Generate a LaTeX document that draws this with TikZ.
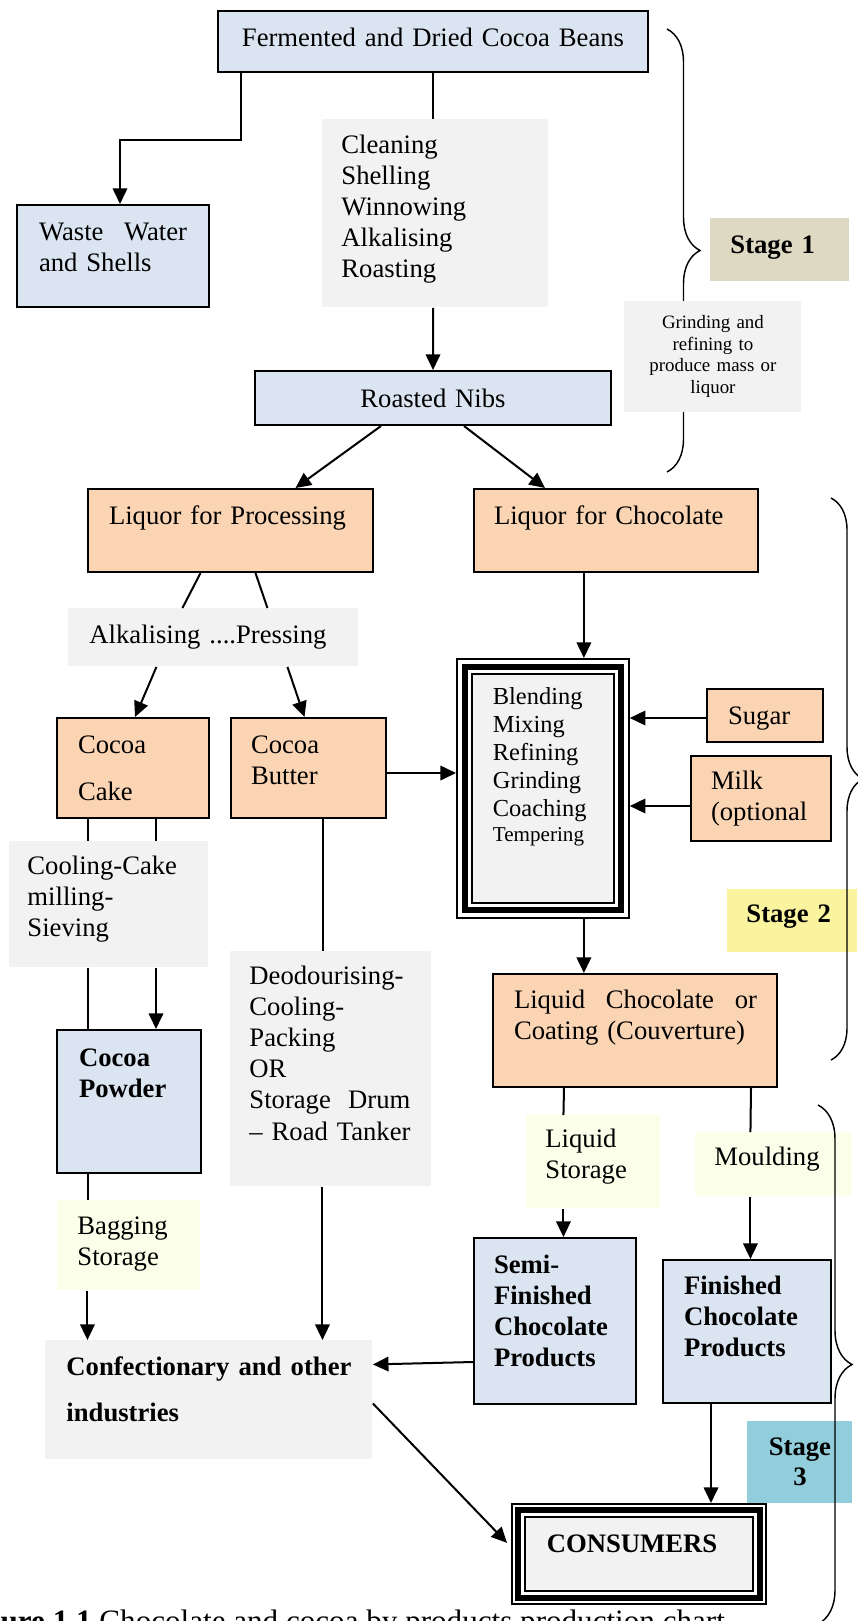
\documentclass[tikz,border=0pt]{standalone}
\usepackage{fontspec}
\setmainfont{Liberation Serif}
\usetikzlibrary{arrows.meta,decorations.pathreplacing}

\definecolor{boxblue}{HTML}{DBE5F1}
\definecolor{boxorange}{HTML}{FBD4B4}
\definecolor{boxgray}{HTML}{F2F2F2}
\definecolor{boxcream}{HTML}{FBFEE8}
\definecolor{stagetan}{HTML}{DDD9C3}
\definecolor{stageyellow}{HTML}{FAF49E}
\definecolor{stageblue}{HTML}{92CDDC}

\tikzset{
  box/.style={anchor=north west, inner ysep=0pt, inner xsep=0pt, align=left,
    font=\fontsize{12}{14}\selectfont},
  sz/.style n args={4}{text width=#1, inner xsep=#2, text height=#3, text depth=#4},
  bluebox/.style={box, draw, line width=0.9pt, fill=boxblue},
  orangebox/.style={box, draw, line width=0.9pt, fill=boxorange},
  graybox/.style={box, fill=boxgray},
  creambox/.style={box, fill=boxcream},
  tribox/.style 2 args={box, draw, line width=0.8pt, fill=white,
    path picture={
      \draw[line width=2.8pt] ([shift={(#1,#1)}]path picture bounding box.north west)
        rectangle ([shift={(-#1,-#1)}]path picture bounding box.south east);
      \draw[line width=0.8pt, fill=boxgray] ([shift={(#2,#2)}]path picture bounding box.north west)
        rectangle ([shift={(-#2,-#2)}]path picture bounding box.south east);
    }},
  arr/.style={-{Triangle[length=7pt,width=6.5pt]}, line width=0.9pt},
  link/.style={line width=0.9pt},
  stagebrace/.style={decorate, decoration={brace, amplitude=#1}, line width=0.65pt}
}

\begin{document}
\begin{tikzpicture}[x=0.45pt, y=-0.45pt]
  \useasboundingbox (0,0) rectangle (857,1621);

  \draw[stagebrace=14.85pt] (667,29) -- (667,472);

  \node[bluebox, align=center, sz={193.5pt}{0pt}{15.75pt}{11.7pt}] (beans) at (217,10)
    {Fermented and Dried Cocoa Beans};
  \node[bluebox, sz={66.6pt}{9.9pt}{15.75pt}{30.15pt}] (waste) at (16,204)
    {\makebox[66.6pt]{Waste\hfill Water}\\and Shells};
  \node[graybox, sz={84.6pt}{8.55pt}{15.3pt}{69.3pt}] (clean) at (322,119)
    {Cleaning\\Shelling\\Winnowing\\Alkalising\\Roasting};
  \node[bluebox, align=center, sz={160.2pt}{0pt}{16.2pt}{8.1pt}] (nibs) at (254,370)
    {Roasted Nibs};
  \node[graybox, align=center, font=\fontsize{8.5}{9.7}\selectfont,
    sz={79.65pt}{0pt}{12.15pt}{37.8pt}] (grind) at (624,301)
    {Grinding and\\refining to\\produce mass or\\liquor};
  \node[box, fill=stagetan, font=\fontsize{12}{14}\selectfont\bfseries,
    sz={44.55pt}{9pt}{15.75pt}{12.6pt}] (stage1) at (710,218) {Stage 1};

  \node[orangebox, sz={109.35pt}{9.45pt}{15.75pt}{21.6pt}] (proc) at (87,488)
    {Liquor for Processing};
  \node[orangebox, sz={109.8pt}{9pt}{15.75pt}{21.6pt}] (choc) at (473,488)
    {Liquor for Chocolate};
  \node[graybox, sz={111.6pt}{9.45pt}{15.75pt}{10.35pt}] (alk) at (68,608)
    {Alkalising ....Pressing};
  \node[orangebox, font=\fontsize{12}{21.15}\selectfont,
    sz={49.5pt}{9.45pt}{15.75pt}{29.25pt}] (cake) at (56,717) {Cocoa\\Cake};
  \node[orangebox, sz={51.75pt}{9pt}{15.75pt}{29.25pt}] (butter) at (230,717)
    {Cocoa\\Butter};
  \node[tribox={8}{15}, font=\fontsize{11}{12.6}\selectfont,
    sz={45pt}{16.2pt}{20.7pt}{95.85pt}] (blend) at (456,658)
    {Blending\\Mixing\\Refining\\Grinding\\Coaching\\[-1.35pt]{\fontsize{9.5}{11}\selectfont Tempering}};
  \node[orangebox, sz={33.3pt}{9.45pt}{15.75pt}{8.1pt}] (sugar) at (706,688) {Sugar};
  \node[orangebox, sz={45pt}{9pt}{14.85pt}{23.4pt}] (milk) at (690,755)
    {Milk\\(optional};

  \node[graybox, sz={73.35pt}{8.1pt}{14.85pt}{41.85pt}] (cool) at (9,841)
    {Cooling-Cake\\milling-\\Sieving};
  \node[bluebox, font=\fontsize{12}{14}\selectfont\bfseries,
    sz={45pt}{9.9pt}{16.2pt}{48.15pt}] (powder) at (56,1029) {Cocoa\\Powder};
  \node[creambox, sz={46.35pt}{9pt}{15.3pt}{25.2pt}] (bag) at (57,1200)
    {Bagging\\Storage};
  \node[graybox, sz={73.35pt}{8.55pt}{14.85pt}{90.9pt}] (deo) at (230,951)
    {Deodourising-\\Cooling-\\Packing\\OR\\\makebox[72.45pt]{Storage\hfill Drum}\\– Road Tanker};
  \node[orangebox, sz={108.9pt}{9.45pt}{15.3pt}{35.55pt}] (liqchoc) at (492,973)
    {\makebox[109.35pt]{Liquid\hfill Chocolate\hfill or}\\Coating (Couverture)};
  \node[box, fill=stageyellow, font=\fontsize{12}{14}\selectfont\bfseries,
    sz={41.4pt}{8.55pt}{14.85pt}{13.5pt}] (stage2) at (727,889) {Stage 2};

  \node[creambox, sz={43.2pt}{8.55pt}{14.4pt}{27.45pt}] (lstore) at (526,1115)
    {Liquid\\Storage};
  \node[creambox, sz={53.55pt}{8.55pt}{14.85pt}{13.95pt}] (mould) at (695,1132)
    {Moulding};
  \node[bluebox, font=\fontsize{12}{14}\selectfont\bfseries,
    sz={54.9pt}{9pt}{15.75pt}{58.95pt}] (semi) at (473,1237)
    {Semi-\\Finished\\Chocolate\\Products};
  \node[bluebox, font=\fontsize{12}{14}\selectfont\bfseries,
    sz={56.7pt}{9.45pt}{15.3pt}{49.05pt}] (fin) at (662,1259)
    {Finished\\Chocolate\\Products};
  \node[graybox, font=\fontsize{12}{20.7}\selectfont\bfseries,
    sz={128.25pt}{9.45pt}{15.75pt}{37.8pt}] (conf) at (45,1340)
    {\makebox[128.25pt]{Confectionary\hfill and\hfill other}\\industries};
  \node[box, fill=stageblue, align=center, font=\fontsize{12}{13.5}\selectfont\bfseries,
    sz={47.25pt}{0pt}{15.3pt}{21.6pt}] (stage3) at (747,1421) {Stage\\3};
  \node[tribox={6}{13}, font=\fontsize{12}{14}\selectfont\bfseries,
    sz={82.8pt}{15.75pt}{22.05pt}{22.95pt}] (cons) at (511,1503) {CONSUMERS};

  \draw[arr] ([shift={(-192,0)}]beans.south) -- ++(0,67) -| ([shift={(7,0)}]waste.north);
  \draw[link] (beans.south) -- (beans.south |- clean.north);
  \draw[arr] (beans.south |- clean.south) -- (nibs.north);
  \draw[arr] ([shift={(-52,0)}]nibs.south) -- ([shift={(65,0)}]proc.north);
  \draw[arr] ([shift={(31,0)}]nibs.south) -- ([shift={(-71,0)}]choc.north);
  \draw[link] ([shift={(-30,0)}]proc.south) -- ([shift={(-31,0)}]alk.north);
  \draw[link] ([shift={(25,0)}]proc.south) -- ([shift={(54,0)}]alk.north);
  \draw[arr] ([shift={(-57,0)}]alk.south) -- ([shift={(2,0)}]cake.north);
  \draw[arr] ([shift={(74,0)}]alk.south) -- ([shift={(-4,0)}]butter.north);
  \draw[arr] ([shift={(0,5)}]butter.east) -- ([shift={(0,5)}]butter.east -| blend.west);
  \draw[arr] ([shift={(41,0)}]blend.north |- choc.south) -- ([shift={(41,0)}]blend.north);
  \draw[arr] ([shift={(0,2.5)}]sugar.west) -- ([shift={(0,2.5)}]sugar.west -| blend.east);
  \draw[arr] ([shift={(0,7.5)}]milk.west) -- ([shift={(0,7.5)}]milk.west -| blend.east);
  \draw[link] ([shift={(-45,0)}]cake.south) -- ([shift={(-45,0)}]cake.south |- cool.north);
  \draw[link] ([shift={(23,0)}]cake.south) -- ([shift={(23,0)}]cake.south |- cool.north);
  \draw[link] ([shift={(-41,0)}]powder.north |- cool.south) -- ([shift={(-41,0)}]powder.north);
  \draw[arr] ([shift={(27,0)}]powder.north |- cool.south) -- ([shift={(27,0)}]powder.north);
  \draw[link] ([shift={(-41,0)}]powder.south) -- ([shift={(-41,0)}]powder.south |- bag.north);
  \draw[arr] ([shift={(-41.5,0)}]bag.south) -- ([shift={(-41.5,0)}]bag.south |- conf.north);
  \draw[link] ([shift={(14.5,0)}]butter.south) -- ([shift={(14.5,0)}]butter.south |- deo.north);
  \draw[arr] ([shift={(-8.5,0)}]deo.south) -- ([shift={(-8.5,0)}]deo.south |- conf.north);
  \draw[arr] ([shift={(41,0)}]blend.south) -- ([shift={(41,0)}]blend.south |- liqchoc.north);
  \draw[link] ([shift={(-71,0)}]liqchoc.south) -- ([shift={(-30,0)}]lstore.north);
  \draw[arr] ([shift={(-30,0)}]lstore.south) -- ([shift={(-30,0)}]lstore.south |- semi.north);
  \draw[link] ([shift={(116,0)}]liqchoc.south) -- ([shift={(-23.5,0)}]mould.north);
  \draw[arr] ([shift={(-23.5,0)}]mould.south) -- ([shift={(-23.5,0)}]mould.south |- fin.north);
  \draw[arr] ([shift={(0,41)}]semi.west) -- ([shift={(0,-35.5)}]conf.east);
  \draw[arr] ([shift={(0,3.5)}]conf.east) -- ([shift={(-4,-11)}]cons.west);
  \draw[arr] ([shift={(-36,0)}]fin.south) -- ([shift={(-36,0)}]fin.south |- cons.north);

  \draw[stagebrace=14.4pt] (831,498) -- (831,1060);
  \draw[stagebrace=15.3pt] (818,1105) -- (818,1624);

  \node[anchor=base west, inner sep=0pt, font=\fontsize{14}{16}\selectfont] (caption)
    at (-43,1631) {\textbf{Figure 1.1} Chocolate and cocoa by products production chart};
\end{tikzpicture}
\end{document}
